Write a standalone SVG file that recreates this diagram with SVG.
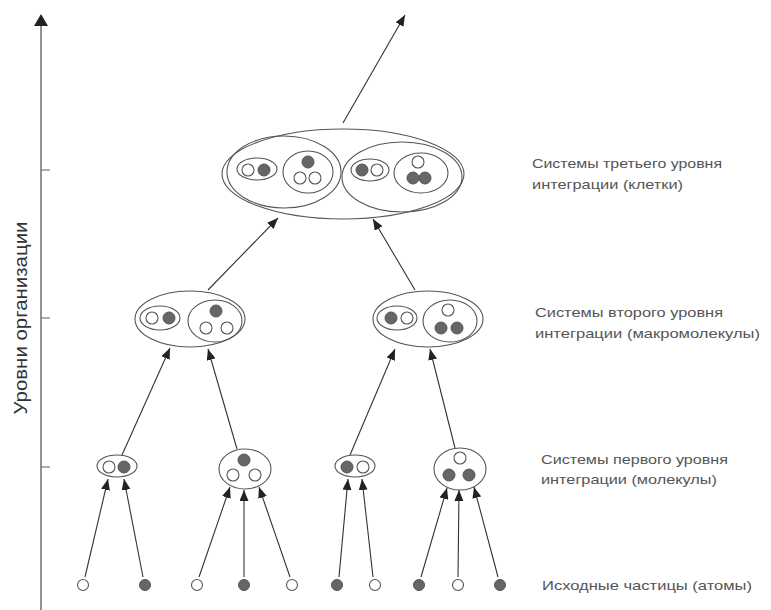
<svg xmlns="http://www.w3.org/2000/svg" width="771" height="610" viewBox="0 0 771 610">
<defs>
<style>
.e{fill:none;stroke:#555;stroke-width:1.1}
.o{fill:#fff;stroke:#555;stroke-width:1.1}
.f{fill:#666;stroke:#555;stroke-width:1}
.c{stroke:#333;stroke-width:1.1;fill:none;marker-end:url(#ah)}
.t{font-family:"Liberation Sans",Arial,sans-serif;font-size:13px;fill:#555}
</style>
<marker id="ah" markerUnits="userSpaceOnUse" markerWidth="11" markerHeight="9" refX="11" refY="4.5" orient="auto">
<path d="M0,0 L11,4.5 L0,9 z" fill="#222"/>
</marker>
</defs>
<rect width="771" height="610" fill="#fff"/>

<g id="axis">
<line x1="41" y1="24" x2="41" y2="610" stroke="#777" stroke-width="1.6"/>
<path d="M41,14 L48,26 L34,26 z" fill="#222"/>
<line x1="41" y1="170" x2="50" y2="170" stroke="#777" stroke-width="1.2"/>
<line x1="41" y1="318" x2="50" y2="318" stroke="#777" stroke-width="1.2"/>
<line x1="41" y1="467" x2="50" y2="467" stroke="#777" stroke-width="1.2"/>
<text transform="translate(27,318) rotate(-90)" text-anchor="middle" textLength="193" lengthAdjust="spacingAndGlyphs" style="font-family:'Liberation Sans',Arial,sans-serif;font-size:18px;fill:#333">Уровни организации</text>
</g>

<g id="connectors">
<line class="c" x1="85" y1="577" x2="108" y2="479"/>
<line class="c" x1="143" y1="577" x2="124" y2="479"/>
<line class="c" x1="199" y1="577" x2="230" y2="487"/>
<line class="c" x1="244" y1="577" x2="244" y2="490"/>
<line class="c" x1="290" y1="577" x2="259" y2="487"/>
<line class="c" x1="339" y1="577" x2="348" y2="479"/>
<line class="c" x1="373" y1="577" x2="362" y2="479"/>
<line class="c" x1="421" y1="577" x2="447" y2="488"/>
<line class="c" x1="458" y1="577" x2="459" y2="490"/>
<line class="c" x1="498" y1="577" x2="474" y2="487"/>
<line class="c" x1="122" y1="455" x2="170" y2="348"/>
<line class="c" x1="237" y1="449" x2="208" y2="349"/>
<line class="c" x1="350" y1="455" x2="395" y2="349"/>
<line class="c" x1="455" y1="448" x2="430" y2="349"/>
<line class="c" x1="208" y1="290" x2="278" y2="218"/>
<line class="c" x1="415" y1="290" x2="373" y2="219"/>
<line class="c" x1="343" y1="123" x2="405" y2="15"/>
</g>

<g id="atoms">
<circle class="o" cx="83" cy="585" r="5.5"/>
<circle class="f" cx="145" cy="585" r="5.5"/>
<circle class="o" cx="197" cy="585" r="5.5"/>
<circle class="f" cx="244" cy="585" r="5.5"/>
<circle class="o" cx="292" cy="585" r="5.5"/>
<circle class="f" cx="337" cy="585" r="5.5"/>
<circle class="o" cx="375" cy="585" r="5.5"/>
<circle class="f" cx="419" cy="585" r="5.5"/>
<circle class="o" cx="458" cy="585" r="5.5"/>
<circle class="f" cx="500" cy="585" r="5.5"/>
</g>

<g id="mol1">
<ellipse class="e" cx="117" cy="466" rx="20" ry="11"/>
<circle class="o" cx="109" cy="467" r="6"/>
<circle class="f" cx="124" cy="467" r="6"/>
</g>
<g id="mol2">
<ellipse class="e" cx="245" cy="469" rx="26" ry="20"/>
<circle class="f" cx="244" cy="460" r="6"/>
<circle class="o" cx="233" cy="475" r="6"/>
<circle class="o" cx="255" cy="475" r="6"/>
</g>
<g id="mol3">
<ellipse class="e" cx="355" cy="466" rx="20" ry="11"/>
<circle class="f" cx="347" cy="467" r="6"/>
<circle class="o" cx="363" cy="467" r="6"/>
</g>
<g id="mol4">
<ellipse class="e" cx="460" cy="469" rx="26" ry="21"/>
<circle class="o" cx="460" cy="458" r="6"/>
<circle class="f" cx="449" cy="475" r="6"/>
<circle class="f" cx="469" cy="475" r="6"/>
</g>

<g id="macro1">
<ellipse class="e" cx="190" cy="319" rx="55" ry="28"/>
<ellipse class="e" cx="160" cy="318" rx="20" ry="12"/>
<circle class="o" cx="152" cy="318" r="6"/>
<circle class="f" cx="169" cy="318" r="6"/>
<ellipse class="e" cx="215" cy="321" rx="27" ry="21"/>
<circle class="f" cx="216" cy="311" r="6"/>
<circle class="o" cx="206" cy="328" r="6"/>
<circle class="o" cx="227" cy="328" r="6"/>
</g>
<g id="macro2">
<ellipse class="e" cx="428" cy="319" rx="55" ry="28"/>
<ellipse class="e" cx="397" cy="318" rx="20" ry="12"/>
<circle class="f" cx="391" cy="318" r="6"/>
<circle class="o" cx="407" cy="318" r="6"/>
<ellipse class="e" cx="450" cy="321" rx="27" ry="21"/>
<circle class="o" cx="448" cy="310" r="6"/>
<circle class="f" cx="441" cy="328" r="6"/>
<circle class="f" cx="457" cy="328" r="6"/>
</g>

<g id="cell">
<ellipse class="e" cx="343" cy="174" rx="121" ry="45"/>
<ellipse class="e" cx="284" cy="172" rx="57" ry="36"/>
<ellipse class="e" cx="257" cy="169" rx="20" ry="11"/>
<circle class="o" cx="248" cy="170" r="6"/>
<circle class="f" cx="264" cy="170" r="6"/>
<ellipse class="e" cx="308" cy="172" rx="25" ry="21"/>
<circle class="f" cx="308" cy="162" r="6"/>
<circle class="o" cx="300" cy="178" r="6"/>
<circle class="o" cx="315" cy="178" r="6"/>
<ellipse class="e" cx="402" cy="177" rx="60" ry="35"/>
<ellipse class="e" cx="370" cy="170" rx="19" ry="11"/>
<circle class="f" cx="362" cy="170" r="6"/>
<circle class="o" cx="377" cy="170" r="6"/>
<ellipse class="e" cx="421" cy="173" rx="27" ry="20"/>
<circle class="o" cx="418" cy="162" r="6"/>
<circle class="f" cx="413" cy="178" r="6"/>
<circle class="f" cx="425" cy="178" r="6"/>
</g>

<g id="labels">
<text class="t" x="532" y="168" textLength="190" lengthAdjust="spacingAndGlyphs">Системы третьего уровня</text>
<text class="t" x="532" y="189" textLength="151" lengthAdjust="spacingAndGlyphs">интеграции (клетки)</text>
<text class="t" x="535" y="317" textLength="188" lengthAdjust="spacingAndGlyphs">Системы второго уровня</text>
<text class="t" x="535" y="338" textLength="225" lengthAdjust="spacingAndGlyphs">интеграции (макромолекулы)</text>
<text class="t" x="541" y="464" textLength="187" lengthAdjust="spacingAndGlyphs">Системы первого уровня</text>
<text class="t" x="541" y="484" textLength="176" lengthAdjust="spacingAndGlyphs">интеграции (молекулы)</text>
<text class="t" x="542" y="590" textLength="210" lengthAdjust="spacingAndGlyphs">Исходные частицы (атомы)</text>
</g>
</svg>
